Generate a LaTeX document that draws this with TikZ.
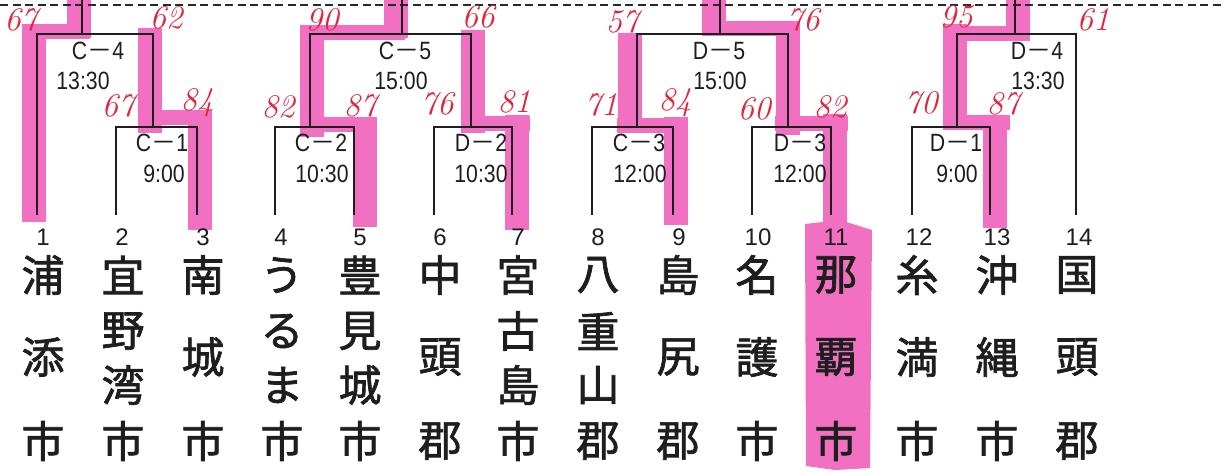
\documentclass[tikz,border=0pt]{standalone}
\usepackage{fontspec}
\newfontfamily\labfont[FakeStretch=0.85]{Liberation Sans}
\newfontfamily\numfont{Liberation Sans}
\newfontfamily\cjk{Noto Sans CJK JP}
\newfontfamily\cjkname[RawFeature={embolden=1.6}]{Noto Sans CJK JP}
\definecolor{hl}{RGB}{242,112,194}
\definecolor{ink}{RGB}{30,30,30}
\definecolor{dashc}{RGB}{40,40,40}
\definecolor{pen}{RGB}{222,38,62}
\newcommand\hlV[3]{\fill[hl] (#1-12,#2) rectangle (#1+12,#3);}
\newcommand\hlH[3]{\fill[hl] (#1,#3-7.5) rectangle (#2,#3+7.5);}
\newcommand\dsh{{\cjk －}}
\newcommand\colthree[5]{%
  \node[jp] (#5a) at (#1,275) {#2};
  \node[jp] (#5b) at (#1,357) {#3};
  \node[jp] (#5c) at (#1,441) {#4};}
\newcommand\colfour[6]{%
  \node[jp] (#6a) at (#1,275) {#2};
  \node[jp] (#6b) at (#1,331) {#3};
  \node[jp] (#6c) at (#1,385) {#4};
  \node[jp] (#6d) at (#1,441) {#5};}
\tikzset{
  br/.style={draw=ink, line width=1.4pt},
  lab/.style={inner sep=0pt, text=ink, font=\labfont\fontsize{25}{30}\selectfont, text height=18pt, text depth=0pt},
  num/.style={inner sep=0pt, text=ink, font=\numfont\fontsize{24}{28}\selectfont, text height=17pt, text depth=0pt},
  jp/.style={inner sep=0pt, text=ink, font=\cjkname\fontsize{43}{50}\selectfont},
  score/.style={inner sep=0pt, text=pen, font=\itshape\fontsize{33}{36}\selectfont},
}
\begin{document}
\begin{tikzpicture}[x=1pt,y=-1pt]
\useasboundingbox (0,0) rectangle (1224,472);
\coordinate (o) at (0,0);
% ---------- highlighter ----------
% team 1
\hlV{34}{222}{26} \hlH{22}{90}{31} \hlV{79}{38}{0}
% team 3
\hlV{200}{230}{110} \hlH{140}{212}{117} \hlV{150}{133}{28}
% team 5
\hlV{365}{227}{117} \hlH{300}{377}{124} \hlV{312}{137}{25} \hlH{300}{405}{32} \hlV{396}{38}{0}
% team 7
\hlV{517}{230}{115} \hlH{462}{530}{123} \hlV{473}{133}{30}
% team 9
\hlV{676}{225}{117} \hlH{617}{688}{125} \hlV{630}{130}{33}
% team 11
\fill[hl] (805,224) -- (840,220) -- (872,230) -- (870,468) -- (835,470) -- (806,466) -- cycle;
\hlV{835}{225}{114} \hlH{775}{848}{123} \hlV{788}{135}{22} \hlH{702}{800}{28} \hlV{714}{35}{0}
% team 13
\hlV{995}{228}{118} \hlH{943}{1010}{122} \hlV{955}{130}{24} \hlH{943}{1030}{33} \hlV{1018}{40}{0}
% ---------- dashed top line ----------
\draw[dashc, line width=2.2pt, dash pattern=on 8pt off 4.5pt] (0,5) -- (1224,5);
% ---------- bracket ----------
\foreach \i/\x in {1/37,2/116,3/197,4/275,5/354,6/434,7/512,8/592,9/673,10/752,11/831,12/912,13/990,14/1076}
  \coordinate (t\i) at (\x,215);
\coordinate (c1) at (153,127);
\coordinate (c2) at (310,127);
\coordinate (d2) at (471,127);
\coordinate (c3) at (637,127);
\coordinate (d3) at (788,127);
\coordinate (d1) at (957,127);
\coordinate (c4) at (82,34);
\coordinate (c5) at (402,34);
\coordinate (d5) at (720,34);
\coordinate (d4) at (1015,34);
% first round
\draw[br] (t2) |- (t3|-c1) -- (t3);
\draw[br] (t4) |- (t5|-c2) -- (t5);
\draw[br] (t6) |- (t7|-d2) -- (t7);
\draw[br] (t8) |- (t9|-c3) -- (t9);
\draw[br] (t10) |- (t11|-d3) -- (t11);
\draw[br] (t12) |- (t13|-d1) -- (t13);
% second round
\draw[br] (t1) |- (c1|-c4) -- (c1);
\draw[br] (c2) |- (d2|-c5) -- (d2);
\draw[br] (c3) |- (d3|-d5) -- (d3);
\draw[br] (d1) |- (t14|-d4) -- (t14);
% stems to top
\draw[br] (c4) -- (c4|-o);
\draw[br] (c5) -- (c5|-o);
\draw[br] (d5) -- (d5|-o);
\draw[br] (d4) -- (d4|-o);
% ---------- match labels ----------
\node[lab] (lc4) at (98,50) {C\dsh 4};
\node[lab] (tc4) at (83,80) {13:30};
\node[lab] (lc1) at (162,142) {C\dsh 1};
\node[lab] (tc1) at (164,173) {9:00};
\node[lab] (lc2) at (321,142) {C\dsh 2};
\node[lab] (tc2) at (322,173) {10:30};
\node[lab] (lc5) at (405,50) {C\dsh 5};
\node[lab] (tc5) at (401,80) {15:00};
\node[lab] (ld2) at (481,142) {D\dsh 2};
\node[lab] (td2) at (481,173) {10:30};
\node[lab] (lc3) at (639,142) {C\dsh 3};
\node[lab] (tc3) at (640,173) {12:00};
\node[lab] (ld5) at (719,50) {D\dsh 5};
\node[lab] (td5) at (720,80) {15:00};
\node[lab] (ld3) at (800,142) {D\dsh 3};
\node[lab] (td3) at (800,173) {12:00};
\node[lab] (ld1) at (956,142) {D\dsh 1};
\node[lab] (td1) at (957,173) {9:00};
\node[lab] (ld4) at (1037,50) {D\dsh 4};
\node[lab] (td4) at (1038,80) {13:30};
% ---------- scores ----------
\node[score] (s1) at (21,20) {67};
\node[score] (s2) at (166,18) {62};
\node[score] (s3) at (118,106) {67};
\node[score] (s4) at (197,103) {84};
\node[score] (s5) at (278,107) {82};
\node[score] (s6) at (360,106) {87};
\node[score] (s7) at (322,20) {90};
\node[score] (s8) at (478,17) {66};
\node[score] (s9) at (437,104) {76};
\node[score] (s10) at (514,102) {81};
\node[score] (s11) at (622,22) {57};
\node[score] (s12) at (601,105) {71};
\node[score] (s13) at (675,103) {84};
\node[score] (s14) at (803,20) {76};
\node[score] (s15) at (754,109) {60};
\node[score] (s16) at (830,107) {82};
\node[score] (s17) at (956,17) {95};
\node[score] (s18) at (1093,20) {61};
\node[score] (s19) at (921,103) {70};
\node[score] (s20) at (1003,104) {87};
% ---------- team numbers ----------
\foreach \i/\x in {1/43,2/122,3/203,4/281,5/360,6/440,7/518,8/598,9/679,10/758,11/836,12/919,13/997,14/1079}
  \node[num] (n\i) at (\x,237) {\i};
% ---------- team names ----------
\colthree{43}{浦}{添}{市}{m1}
\colfour{123}{宜}{野}{湾}{市}{m2}
\colthree{203}{南}{城}{市}{m3}
\colfour{282}{う}{る}{ま}{市}{m4}
\colfour{360}{豊}{見}{城}{市}{m5}
\colthree{440}{中}{頭}{郡}{m6}
\colfour{518}{宮}{古}{島}{市}{m7}
\colfour{598}{八}{重}{山}{郡}{m8}
\colthree{678}{島}{尻}{郡}{m9}
\colthree{757}{名}{護}{市}{m10}
\colthree{836}{那}{覇}{市}{m11}
\colthree{917}{糸}{満}{市}{m12}
\colthree{997}{沖}{縄}{市}{m13}
\colthree{1077}{国}{頭}{郡}{m14}
\end{tikzpicture}
\end{document}
